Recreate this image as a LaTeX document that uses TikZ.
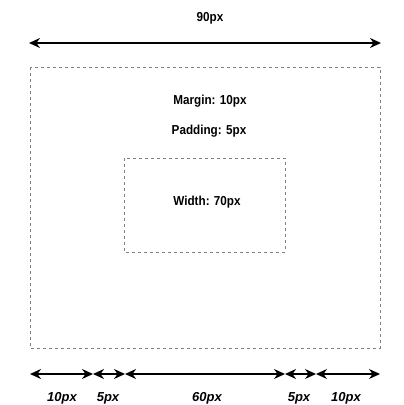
\documentclass[tikz,border=0pt]{standalone}
\usepackage{fontspec}
\setmainfont{Liberation Sans}
\newfontfamily\condfont[FakeStretch=0.9]{Liberation Sans}
\usetikzlibrary{arrows.meta}
\begin{document}
\begin{tikzpicture}[x=1pt,y=-1pt,
  box/.style={draw=black!50,dash pattern=on 3pt off 3pt,line width=0.8pt},
  dim/.style={{Stealth[length=11pt,width=10pt]}-{Stealth[length=11pt,width=10pt]},line width=1.4pt},
  lbl/.style={font=\condfont\bfseries\fontsize{13}{15}\selectfont,inner sep=0pt},
  blbl/.style={font=\bfseries\itshape\fontsize{13}{15}\selectfont,inner sep=0pt}]
\useasboundingbox (0,0) rectangle (404,405);
% boxes
\draw[box] (30,67) rectangle (380,348);
\draw[box] (124,158) rectangle (285,252);
% texts
\node[lbl] (t90) at (210,18) {90px};
\node[lbl] (tm) at (210,101) {Margin: 10px};
\node[lbl] (tp) at (209,131) {Padding: 5px};
\node[lbl] (tw) at (207,202) {Width: 70px};
% top dimension
\coordinate (a0) at (29,43);
\coordinate (a1) at (381,43);
\draw[dim] (a0) -- (a1);
% bottom dimensions
\coordinate (b0) at (30,374);
\coordinate (b1) at (93,374);
\coordinate (b2) at (125,374);
\coordinate (b3) at (285,374);
\coordinate (b4) at (316,374);
\coordinate (b5) at (380,374);
\draw[dim] (b0) -- (b1);
\draw[dim] (b1) -- (b2);
\draw[dim] (b2) -- (b3);
\draw[dim] (b3) -- (b4);
\draw[dim] (b4) -- (b5);
\node[blbl] (l1) at (62,398) {10px};
\node[blbl] (l2) at (108,398) {5px};
\node[blbl] (l3) at (207,398) {60px};
\node[blbl] (l4) at (299,398) {5px};
\node[blbl] (l5) at (346,398) {10px};
\end{tikzpicture}
\end{document}
